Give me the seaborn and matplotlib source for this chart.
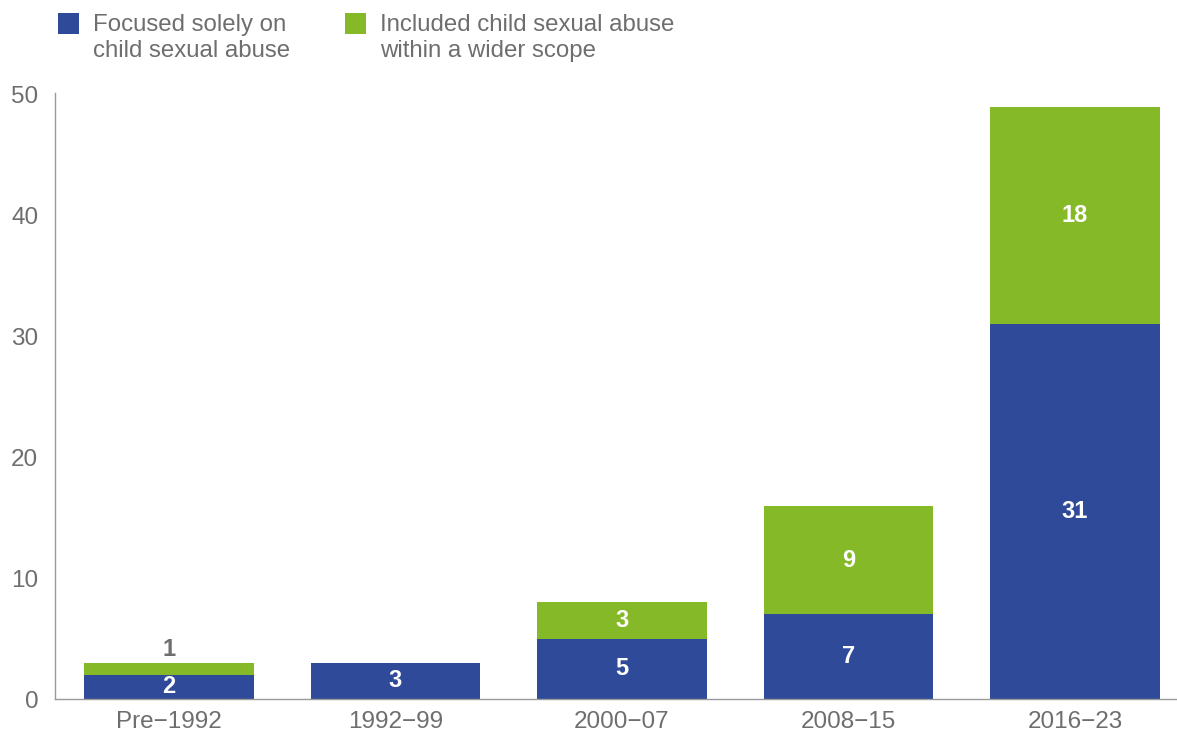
import matplotlib
matplotlib.use("Agg")
import matplotlib.pyplot as plt
import seaborn as sns
import pandas as pd
from matplotlib.patches import Rectangle

periods = ["Pre\u22121992", "1992\u221299", "2000\u221207", "2008\u221215", "2016\u221223"]
focused = [2, 3, 5, 7, 31]
wider = [1, 0, 3, 9, 18]
series_names = ["Focused solely on\nchild sexual abuse", "Included child sexual abuse\nwithin a wider scope"]
yticks = [0, 10, 20, 30, 40, 50]

BLUE = "#2E4A98"
GREEN = "#86B927"
GREY = "#6E6E6E"

sns.set_theme(style="white")
plt.rcParams['font.family'] = ['Liberation Sans', 'DejaVu Sans']

df = pd.DataFrame({"period": periods, "focused": focused, "wider": wider})

W, H = 1177, 740
fig = plt.figure(figsize=(W / 100, H / 100), dpi=100)
ax = fig.add_axes([55 / W, 41 / H, 1 - 55 / W, (699 - 93) / H])

sns.barplot(data=df, x="period", y="focused", color=BLUE, width=0.75,
            saturation=1, ax=ax, linewidth=0)
sns.barplot(data=df, x="period", y="wider", color=GREEN, width=0.75,
            saturation=1, ax=ax, linewidth=0, bottom=df["focused"].values)

for i, (f, w) in enumerate(zip(focused, wider)):
    ax.text(i, f / 2, str(f), ha="center", va="center", color="white",
            fontsize=17, fontweight="bold")
    if w > 0:
        if w >= 2:
            ax.text(i, f + w / 2, str(w), ha="center", va="center", color="white",
                    fontsize=17, fontweight="bold")
        else:
            ax.text(i, f + w + 1.1, str(w), ha="center", va="center", color=GREY,
                    fontsize=17, fontweight="bold")

ax.set_xlim(-0.503, 4.45)
ax.set_ylim(0, 50.15)
ax.set_yticks(yticks)
ax.set_xlabel("")
ax.set_ylabel("")
ax.tick_params(axis="both", length=0, labelsize=17.5, colors=GREY)
ax.tick_params(axis="x", pad=9)
ax.tick_params(axis="y", pad=12)
for side in ["top", "right"]:
    ax.spines[side].set_visible(False)
for side in ["left", "bottom"]:
    ax.spines[side].set_color("#9a9a9a")
    ax.spines[side].set_linewidth(1.0)

# legend drawn at figure level
colors = [BLUE, GREEN]
sq_x = [58, 345]
tx_x = [93, 380]
for c, sx, tx, name in zip(colors, sq_x, tx_x, series_names):
    fig.patches.append(Rectangle((sx / W, 1 - 34 / H), 21 / W, 21 / H,
                                 transform=fig.transFigure, facecolor=c,
                                 edgecolor="none"))
    fig.text(tx / W, 1 - 14 / H, name, ha="left", va="top", fontsize=17.3,
             color=GREY, linespacing=1.25)

fig.savefig("out.png", dpi=100)
